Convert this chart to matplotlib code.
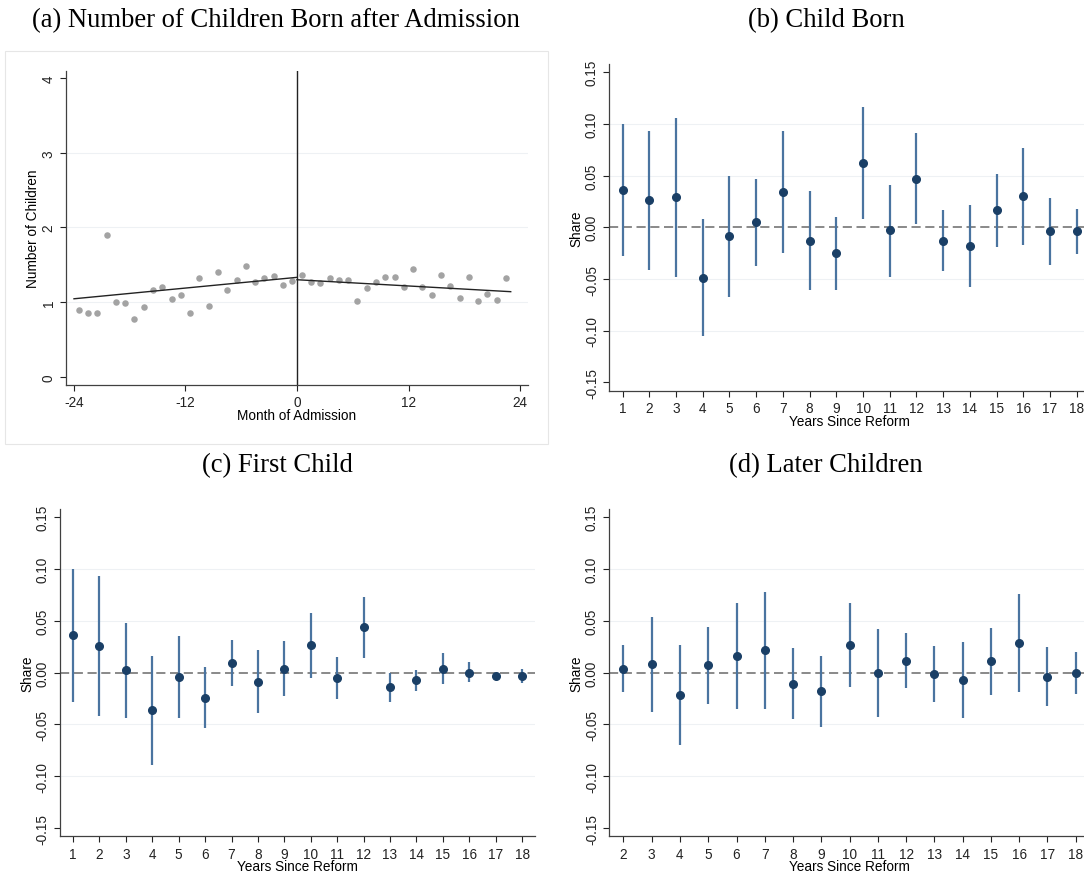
import numpy as np
import matplotlib.pyplot as plt
from matplotlib.patches import Rectangle

# Panel (a): binned means by month of admission
months = [-23.5, -22.5, -21.5, -20.5, -19.5, -18.5, -17.5, -16.5, -15.5, -14.5,
          -13.5, -12.5, -11.5, -10.5, -9.5, -8.5, -7.5, -6.5, -5.5, -4.5,
          -3.5, -2.5, -1.5, -0.5, 0.5, 1.5, 2.5, 3.5, 4.5, 5.5,
          6.5, 7.5, 8.5, 9.5, 10.5, 11.5, 12.5, 13.5, 14.5, 15.5,
          16.5, 17.5, 18.5, 19.5, 20.5, 21.5, 22.5]
n_children = [0.89, 0.85, 0.86, 1.90, 1.00, 0.99, 0.77, 0.93, 1.16, 1.20,
              1.04, 1.10, 0.86, 1.32, 0.95, 1.40, 1.16, 1.29, 1.49, 1.27,
              1.32, 1.35, 1.23, 1.28, 1.37, 1.27, 1.25, 1.32, 1.30, 1.29,
              1.01, 1.19, 1.27, 1.34, 1.34, 1.20, 1.44, 1.20, 1.10, 1.37,
              1.22, 1.06, 1.33, 1.02, 1.11, 1.03, 1.32]
fit_left_x = [-24, 0]
fit_left_y = [1.045, 1.332]
fit_right_x = [0, 23]
fit_right_y = [1.300, 1.140]

# Panel (b): child born
years_b = list(range(1, 19))
est_b = [0.036, 0.026, 0.029, -0.049, -0.008, 0.005, 0.034, -0.013, -0.025,
         0.062, -0.003, 0.047, -0.013, -0.018, 0.017, 0.030, -0.004, -0.004]
hi_b = [0.100, 0.093, 0.106, 0.008, 0.050, 0.047, 0.093, 0.035, 0.010,
        0.116, 0.041, 0.091, 0.017, 0.022, 0.052, 0.077, 0.028, 0.018]
lo_b = [-0.028, -0.041, -0.048, -0.105, -0.067, -0.037, -0.025, -0.061, -0.061,
        0.008, -0.048, 0.003, -0.042, -0.058, -0.019, -0.017, -0.036, -0.026]

# Panel (c): first child
years_c = list(range(1, 19))
est_c = [0.036, 0.026, 0.003, -0.036, -0.004, -0.024, 0.009, -0.009, 0.004,
         0.027, -0.005, 0.044, -0.014, -0.007, 0.004, 0.000, -0.003, -0.003]
hi_c = [0.100, 0.093, 0.048, 0.016, 0.035, 0.005, 0.032, 0.022, 0.031,
        0.058, 0.015, 0.073, 0.000, 0.003, 0.019, 0.010, -0.001, 0.004]
lo_c = [-0.028, -0.042, -0.044, -0.089, -0.044, -0.053, -0.013, -0.039, -0.023,
        -0.005, -0.025, 0.014, -0.028, -0.018, -0.011, -0.009, -0.004, -0.010]

# Panel (d): later children
years_d = list(range(2, 19))
est_d = [0.004, 0.008, -0.022, 0.007, 0.016, 0.022, -0.011, -0.018, 0.027,
         0.000, 0.011, -0.001, -0.007, 0.011, 0.029, -0.004, 0.000]
hi_d = [0.027, 0.054, 0.027, 0.044, 0.067, 0.078, 0.024, 0.016, 0.067,
        0.042, 0.038, 0.026, 0.030, 0.043, 0.076, 0.025, 0.020]
lo_d = [-0.019, -0.038, -0.070, -0.030, -0.035, -0.035, -0.045, -0.052, -0.014,
        -0.043, -0.015, -0.028, -0.044, -0.022, -0.019, -0.032, -0.021]

share_ticks = [-0.15, -0.10, -0.05, 0.00, 0.05, 0.10, 0.15]

plt.rcParams['font.family'] = ['Liberation Sans', 'DejaVu Sans']
plt.rcParams['axes.unicode_minus'] = False
navy = '#1a3f66'
ci_col = '#4a74a0'
grid_col = '#eef1f4'
axis_col = '#404040'

fig = plt.figure(figsize=(10.84, 8.79), dpi=100)


def style_axes(ax):
    for s in ['top', 'right']:
        ax.spines[s].set_visible(False)
    for s in ['left', 'bottom']:
        ax.spines[s].set_color(axis_col)
        ax.spines[s].set_linewidth(0.9)
    ax.tick_params(colors='#222222', labelsize=9.8, length=4.5, width=0.8, pad=3)
    ax.tick_params(axis='y', labelrotation=90)
    for lab in ax.get_yticklabels():
        lab.set_va('center')


def coef_panel(rect, years, est, lo, hi, xlim):
    ax = fig.add_axes(rect)
    ax.set_xlim(*xlim)
    ax.set_ylim(-0.158, 0.158)
    ax.set_yticks(share_ticks)
    ax.set_yticklabels([f'{t:.2f}' for t in share_ticks])
    ax.set_xticks(years)
    for t in share_ticks[1:-1]:
        if t != 0:
            ax.axhline(t, color=grid_col, lw=0.8, zorder=0)
    ax.axhline(0, color='#6a6a6a', lw=1.1, ls=(0, (6, 3)), zorder=1)
    ax.vlines(years, lo, hi, color=ci_col, lw=1.6, zorder=2)
    ax.plot(years, est, 'o', color=navy, ms=5.5, zorder=3)
    ax.set_ylabel('Share', fontsize=9.8, labelpad=1)
    ax.set_xlabel('Years Since Reform', fontsize=9.8, labelpad=-1)
    style_axes(ax)
    return ax


# frame around panel (a)
fig.patches.append(Rectangle((5.4 / 1084, 1 - 445 / 879), 542.6 / 1084, 393.3 / 879,
                             transform=fig.transFigure, fill=False,
                             edgecolor='#e6e6e6', lw=0.8))

# (a)
ax = fig.add_axes([66 / 1084, 1 - 386 / 879, 462 / 1084, 314.3 / 879])
ax.set_xlim(-24.86, 24.86)
ax.set_ylim(-0.11, 4.1)
for t in [1, 2, 3]:
    ax.axhline(t, color=grid_col, lw=0.8, zorder=0)
ax.axvline(0, color='#222222', lw=1.0, zorder=1)
ax.scatter(months, n_children, s=22, color='#a3a3a3', zorder=2, linewidths=0)
ax.plot(fit_left_x, fit_left_y, color='#222222', lw=1.0, zorder=3)
ax.plot(fit_right_x, fit_right_y, color='#222222', lw=1.0, zorder=3)
ax.set_xticks([-24, -12, 0, 12, 24])
ax.set_yticks([0, 1, 2, 3, 4])
ax.set_xlabel('Month of Admission', fontsize=9.8, labelpad=-1)
ax.set_ylabel('Number of Children', fontsize=9.8, labelpad=1)
style_axes(ax)

# (b), (c), (d)
coef_panel([609.3 / 1084, 1 - 391.7 / 879, 480.7 / 1084, 326.7 / 879],
           years_b, est_b, lo_b, hi_b, (0.5, 18.5))
coef_panel([59.8 / 1084, 1 - 837.3 / 879, 475.5 / 1084, 327.3 / 879],
           years_c, est_c, lo_c, hi_c, (0.5, 18.5))
coef_panel([609.3 / 1084, 1 - 837.3 / 879, 480.6 / 1084, 327.3 / 879],
           years_d, est_d, lo_d, hi_d, (1.5, 18.5))

# panel titles
tfont = dict(family=['Liberation Serif', 'DejaVu Serif'], fontsize=19.2,
             ha='center', va='center')
fig.text(276 / 1084, 1 - 21 / 879, '(a) Number of Children Born after Admission', **tfont)
fig.text(826 / 1084, 1 - 21 / 879, '(b) Child Born', **tfont)
fig.text(277 / 1084, 1 - 466 / 879, '(c) First Child', **tfont)
fig.text(826 / 1084, 1 - 466 / 879, '(d) Later Children', **tfont)

fig.savefig('out.png', dpi=100)
